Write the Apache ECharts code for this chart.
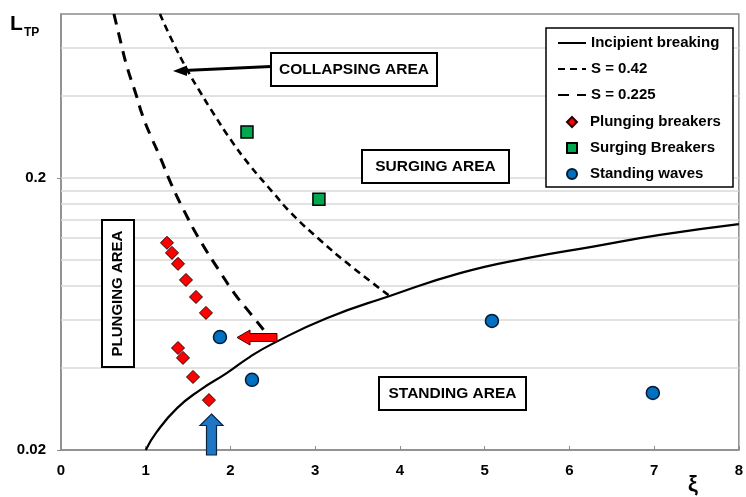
<!DOCTYPE html>
<html>
<head>
<meta charset="utf-8">
<script src="https://cdn.jsdelivr.net/npm/echarts@6/dist/echarts.min.js"></script>
<style>
  html, body { margin: 0; padding: 0; background: #fff; }
  #chart { width: 746px; height: 497px; }
</style>
</head>
<body>
<div id="chart"></div>
<script>
// Breaker-type classification diagram: L_TP against the surf similarity parameter ξ

// Axis values
const xTickValues = [0, 1, 2, 3, 4, 5, 6, 7, 8];
const yLabelValues = [0.02, 0.2];
const yGridValues = [0.04, 0.06, 0.08, 0.1, 0.12, 0.14, 0.16, 0.18, 0.2, 0.4, 0.6];

// Incipient breaking limit
const incipientX = [1.00, 1.13, 1.37, 1.64, 1.96, 2.23, 2.505, 3.135, 3.88, 4.71, 5.50, 6.28, 7.07, 8.00];
const incipientY = [0.0200, 0.0233, 0.0285, 0.0332, 0.0384, 0.0440, 0.0493, 0.0610, 0.0736, 0.0893, 0.1014, 0.1118, 0.1234, 0.1352];

// S = 0.42 boundary
const s042X = [1.168, 1.30, 1.487, 1.65, 1.794, 2.00, 2.23, 2.50, 2.72, 3.06, 3.40, 3.88];
const s042Y = [0.80, 0.65, 0.50, 0.41, 0.347, 0.277, 0.222, 0.177, 0.148, 0.118, 0.096, 0.0736];

// S = 0.225 boundary
const s0225X = [0.625, 0.70, 0.779, 0.88, 0.968, 1.07, 1.168, 1.30, 1.45, 1.64, 1.88, 2.05, 2.23, 2.39];
const s0225Y = [0.80, 0.64, 0.512, 0.41, 0.335, 0.28, 0.239, 0.19, 0.152, 0.118, 0.09, 0.075, 0.0638, 0.0553];

// Observations
const plungingX = [1.251, 1.310, 1.381, 1.475, 1.593, 1.711, 1.381, 1.440, 1.558, 1.746];
const plungingY = [0.1154, 0.106, 0.0966, 0.0843, 0.073, 0.0638, 0.0474, 0.0436, 0.0371, 0.0305];

const surgingX = [2.195, 3.044];
const surgingY = [0.295, 0.167];

const standingX = [1.876, 2.254, 5.086, 6.985];
const standingY = [0.052, 0.0362, 0.0596, 0.0324];

const lineNames = ['Incipient breaking', 'S = 0.42', 'S = 0.225'];
const markerNames = ['Plunging breakers', 'Surging Breakers', 'Standing waves'];

const FONT = '"Liberation Sans", Arial, sans-serif';
const legendText = { fontSize: 15, fontWeight: 'bold', color: '#000', fontFamily: FONT };

function pairs(xs, ys) { return xs.map((x, i) => [x, ys[i]]); }

function areaBox(x, y, w, h, label) {
  return [
    { type: 'rect', z: 20, shape: { x: x, y: y, width: w, height: h },
      style: { fill: '#fff', stroke: '#000', lineWidth: 2 } },
    { type: 'text', z: 21, x: x + w / 2, y: y + h / 2,
      style: { text: label, align: 'center', verticalAlign: 'middle',
               font: 'bold 15.5px ' + FONT, fill: '#000' } }
  ];
}

const chart = echarts.init(document.getElementById('chart'), null, { renderer: 'canvas' });

const option = {
  animation: false,
  backgroundColor: '#fff',
  grid: { left: 61, right: 7, top: 14, bottom: 47, show: true,
          borderColor: '#8c8c8c', borderWidth: 1.5, backgroundColor: 'transparent' },
  xAxis: {
    type: 'value', min: 0, max: 8, interval: 1,
    axisLine: { show: true, lineStyle: { color: '#8c8c8c', width: 1.5 } },
    axisTick: { show: true, inside: true, length: 4, lineStyle: { color: '#8c8c8c' } },
    axisLabel: { show: true, margin: 13, fontSize: 15, fontWeight: 'bold', color: '#000',
                 fontFamily: FONT, formatter: v => String(v) },
    splitLine: { show: false }
  },
  yAxis: {
    type: 'log', logBase: 10, min: 0.02, max: 0.8,
    axisLine: { show: true, lineStyle: { color: '#8c8c8c', width: 1.5 } },
    axisTick: { show: true, inside: false, length: 4, customValues: yLabelValues,
                lineStyle: { color: '#8c8c8c' } },
    axisLabel: { show: true, margin: 15, fontSize: 15, fontWeight: 'bold', color: '#000',
                 fontFamily: FONT, customValues: yLabelValues,
                 formatter: v => String(Number(Number(v).toPrecision(3))) },
    splitLine: { show: false },
    minorSplitLine: { show: false }
  },
  legend: [
    {
      // line samples
      orient: 'vertical', left: 557, top: 35.5, padding: 0,
      itemGap: 11, itemWidth: 28, itemHeight: 10, selectedMode: false,
      textStyle: legendText,
      data: lineNames.map(n => ({ name: n, itemStyle: { opacity: 0 } }))
    },
    {
      // marker samples
      orient: 'vertical', left: 566, top: 114.5, padding: 0,
      itemGap: 11, itemWidth: 10, itemHeight: 10, selectedMode: false,
      textStyle: Object.assign({ padding: [0, 0, 0, 8] }, legendText),
      data: markerNames
    }
  ],
  series: [
    {
      // horizontal gridlines
      name: 'gridlines', type: 'line', data: [], z: 1, silent: true,
      markLine: {
        z: 1, silent: true, symbol: ['none', 'none'], animation: false,
        label: { show: false },
        lineStyle: { color: '#d9d9d9', width: 1.5, type: 'solid' },
        data: yGridValues.map(v => ({ yAxis: v }))
      }
    },
    {
      name: lineNames[0], type: 'line', z: 3, data: pairs(incipientX, incipientY),
      symbol: 'none', smooth: 0.5,
      lineStyle: { color: '#000', width: 2.2, type: 'solid' },
      itemStyle: { color: '#000' }
    },
    {
      name: lineNames[1], type: 'line', z: 3, data: pairs(s042X, s042Y),
      symbol: 'none', smooth: 0.5,
      lineStyle: { color: '#000', width: 2.6, type: [7, 5] },
      itemStyle: { color: '#000' }
    },
    {
      name: lineNames[2], type: 'line', z: 3, data: pairs(s0225X, s0225Y),
      symbol: 'none', smooth: 0.5,
      lineStyle: { color: '#000', width: 3, type: [11, 8] },
      itemStyle: { color: '#000' }
    },
    {
      name: markerNames[0], type: 'scatter', z: 4, data: pairs(plungingX, plungingY),
      symbol: 'diamond', symbolSize: 13,
      itemStyle: { color: '#ff0000', borderColor: '#2a0000', borderWidth: 1, opacity: 1 }
    },
    {
      name: markerNames[1], type: 'scatter', z: 4, data: pairs(surgingX, surgingY),
      symbol: 'rect', symbolSize: 12,
      itemStyle: { color: '#00a84f', borderColor: '#000', borderWidth: 1.5, opacity: 1 }
    },
    {
      name: markerNames[2], type: 'scatter', z: 4, data: pairs(standingX, standingY),
      symbol: 'circle', symbolSize: 13,
      itemStyle: { color: '#0070c0', borderColor: '#061a33', borderWidth: 1.5, opacity: 1 }
    }
  ],
  graphic: [].concat(
    [
      // legend frame
      { type: 'rect', z: 3, shape: { x: 546, y: 28, width: 187, height: 159 },
        style: { fill: '#fff', stroke: '#000', lineWidth: 1.5 } }
    ],
    areaBox(271, 53, 166, 33, 'COLLAPSING AREA'),
    areaBox(362, 150, 147, 33, 'SURGING AREA'),
    areaBox(379, 377, 147, 33, 'STANDING AREA'),
    [
      // rotated label box
      { type: 'rect', z: 20, shape: { x: 102, y: 220, width: 32, height: 147 },
        style: { fill: '#fff', stroke: '#000', lineWidth: 2 } },
      { type: 'text', z: 21, x: 118, y: 293.5, rotation: Math.PI / 2,
        style: { text: 'PLUNGING AREA', align: 'center', verticalAlign: 'middle',
                 font: 'bold 15px ' + FONT, fill: '#000' } },
      // pointer from the collapsing label
      { type: 'line', z: 19, shape: { x1: 271, y1: 66.5, x2: 184, y2: 70.5 },
        style: { stroke: '#000', lineWidth: 3 } },
      { type: 'polygon', z: 19, shape: { points: [[173, 71], [187, 65.5], [187, 76]] },
        style: { fill: '#000' } },
      // red arrow pointing left
      { type: 'polygon', z: 22,
        shape: { points: [[237, 337.5], [250, 330], [250, 333.5], [277, 333.5],
                          [277, 341.5], [250, 341.5], [250, 345]] },
        style: { fill: '#ff0000', stroke: '#4a0000', lineWidth: 1 } },
      // blue arrow pointing up
      { type: 'polygon', z: 22,
        shape: { points: [[211.5, 414], [223, 425.5], [216.5, 425.5], [216.5, 455],
                          [206.5, 455], [206.5, 425.5], [200, 425.5]] },
        style: { fill: '#1f77c4', stroke: '#0a2440', lineWidth: 1.2 } },
      // axis titles
      { type: 'text', z: 21, x: 10, y: 14,
        style: { text: 'L', font: 'bold 21px ' + FONT, fill: '#000' } },
      { type: 'text', z: 21, x: 24, y: 27,
        style: { text: 'TP', font: 'bold 12px ' + FONT, fill: '#000' } },
      { type: 'text', z: 21, x: 693, y: 485,
        style: { text: 'ξ', align: 'center', verticalAlign: 'middle',
                 font: 'bold 22px ' + FONT, fill: '#000' } }
    ]
  )
};

chart.setOption(option);
</script>
</body>
</html>
